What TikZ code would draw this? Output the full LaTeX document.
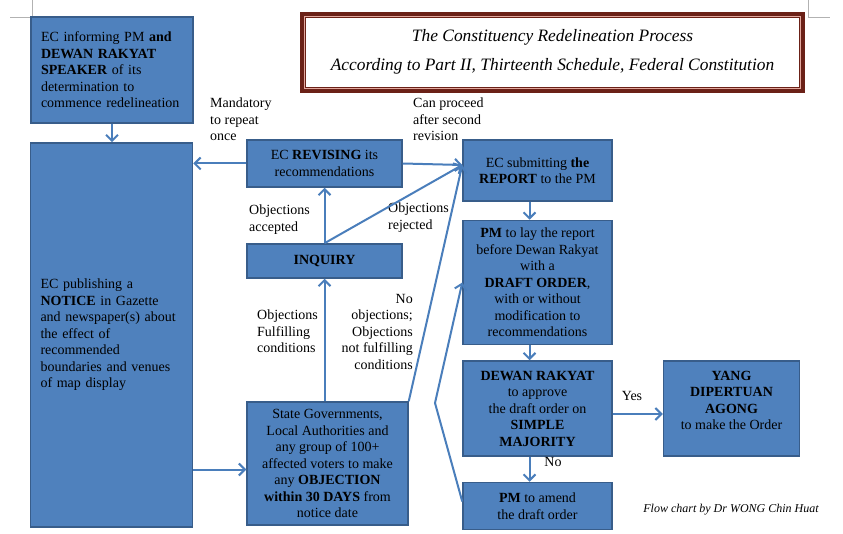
\documentclass[tikz,border=0pt]{standalone}
\usepackage{fontspec}
\setmainfont{Liberation Serif}
\usetikzlibrary{arrows.meta,positioning}
\definecolor{boxfill}{HTML}{4F81BD}
\definecolor{boxline}{HTML}{385D8A}
\definecolor{flowline}{HTML}{4A7EBB}
\definecolor{titlered}{HTML}{6B2117}
\definecolor{titlepink}{HTML}{E3A89E}
\tikzset{
  stage/.style={draw=boxline, fill=boxfill, line width=1.5pt, align=center,
                inner sep=2pt, font=\fontsize{14}{16.5}\selectfont},
  leftstage/.style={stage, align=left, text width=142pt, inner xsep=10pt},
  flow/.style={draw=flowline, line width=2pt,
               -{Straight Barb[length=6pt,width=12pt]}},
  remark/.style={inner sep=0pt, font=\fontsize{14}{16.5}\selectfont},
}
\begin{document}
\begin{tikzpicture}[x=1pt,y=-1pt,node distance=18pt]
\useasboundingbox (0,0) rectangle (843,534);
% page corner marks
\draw[gray!60, line width=0.6pt] (32,0) -- (32,17) -- (10,17);
\draw[gray!60, line width=0.6pt] (808,0) -- (808,17) -- (830,17);
% title frame
\draw[titlered, line width=4pt] (302,14) rectangle (803,91);
\draw[titlepink, line width=1pt] (304.5,16.5) rectangle (800.5,88.5);
\draw[titlered, line width=1pt] (305.5,17.5) rectangle (799.5,87.5);
\node[align=center, font=\fontsize{17.4}{29}\selectfont\itshape] (title) at (552.5,52)
  {The Constituency Redelineation Process\\ According to Part II, Thirteenth Schedule, Federal Constitution};

% stages
\node[leftstage, minimum height=106pt] (inform) at (112,70)
  {EC informing PM \textbf{and}\\ \textbf{DEWAN RAKYAT}\\ \textbf{SPEAKER} of its\\ determination to\\ commence redelineation};
\node[leftstage, minimum height=384pt] (notice) at (111.5,335)
  {EC publishing a\\ \textbf{NOTICE} in Gazette\\ and newspaper(s) about\\ the effect of\\ recommended\\ boundaries and venues\\ of map display};
\node[stage, minimum width=155pt, minimum height=47pt] (revise) at (324.5,163.5)
  {EC \textbf{REVISING} its\\ recommendations};
\node[stage, minimum width=155pt, minimum height=34pt] (inquiry) at (324.5,261)
  {\textbf{INQUIRY}};
\node[stage, minimum width=161pt, minimum height=123pt] (objection) at (327.5,463.5)
  {State Governments,\\ Local Authorities and\\ any group of 100+\\ affected voters to make\\ any \textbf{OBJECTION}\\ \textbf{within 30 DAYS} from\\ notice date};
\node[stage, minimum width=149pt, minimum height=61pt] (report) at (537.5,170.5)
  {EC submitting \textbf{the}\\ \textbf{REPORT} to the PM};
\node[stage, minimum width=149pt, minimum height=124pt, below=of report] (draft)
  {\textbf{PM} to lay the report\\ before Dewan Rakyat\\ with a\\ \textbf{DRAFT ORDER},\\ with or without\\ modification to\\ recommendations};
\node[stage, minimum width=149pt, minimum height=95pt, below=15pt of draft] (approve)
  {\textbf{DEWAN RAKYAT}\\ to approve\\ the draft order on\\ \textbf{SIMPLE}\\ \textbf{MAJORITY}};
\node[stage, minimum width=136pt, minimum height=95pt, right=50pt of approve] (agong)
  {\textbf{YANG}\\ \textbf{DIPERTUAN}\\ \textbf{AGONG}\\ to make the Order\\ ~};
\node[stage, minimum width=149pt, minimum height=47pt, below=25pt of approve] (amend)
  {\textbf{PM} to amend\\ the draft order};

% remarks
\node[remark, anchor=north west, align=left] (repeat) at (210,98) {Mandatory\\ to repeat\\ once};
\node[remark, anchor=north west, align=left] (proceed) at (413,98) {Can proceed\\ after second\\ revision};
\node[remark, anchor=north west, align=left] (accepted) at (249,205) {Objections\\ accepted};
\node[remark, anchor=north west, align=left] (rejected) at (388,203) {Objections\\ rejected};
\node[remark, anchor=north west, align=left] (fulfil) at (257,310) {Objections\\ Fulfilling\\ conditions};
\node[remark, anchor=north east, align=right] (noobj) at (413,294) {No\\ objections;\\ Objections\\ not fulfilling\\ conditions};
\node[remark] (yes) at (632,396) {Yes};
\node[remark] (no) at (553,462) {No};
\node[font=\fontsize{12}{14}\selectfont\itshape] (credit) at (731,510) {Flow chart by Dr WONG Chin Huat};

% connectors
\coordinate (reportin) at ([yshift=5.5pt]report.west);
\coordinate (bend) at (435,403);
\draw[flow] (inform.south) -- (inform.south |- notice.north);
\draw[flow] (revise.west) -- (revise.west -| notice.east);
\draw[flow] ([yshift=-6pt]objection.west -| notice.east) -- ([yshift=-6pt]objection.west);
\draw[flow] (inquiry.south |- objection.north) -- (inquiry.south);
\draw[flow] (inquiry.north) -- (revise.south);
\draw[flow] (inquiry.north) -- (reportin);
\draw[flow] (revise.east) -- (reportin);
\draw[flow] (objection.north east) -- (reportin);
\draw[flow] ([xshift=-8pt]report.south) -- ([xshift=-8pt]draft.north);
\draw[flow] ([xshift=-8pt]draft.south) -- ([xshift=-8pt]approve.north);
\draw[flow] ([xshift=-8pt]approve.south) -- ([xshift=-8pt]amend.north);
\draw[flow] ([yshift=-5.5pt]approve.east) -- ([yshift=-5.5pt]agong.west);
\draw[flow] ([yshift=4.5pt]amend.west) -- (bend) -- (draft.west);
\end{tikzpicture}
\end{document}
